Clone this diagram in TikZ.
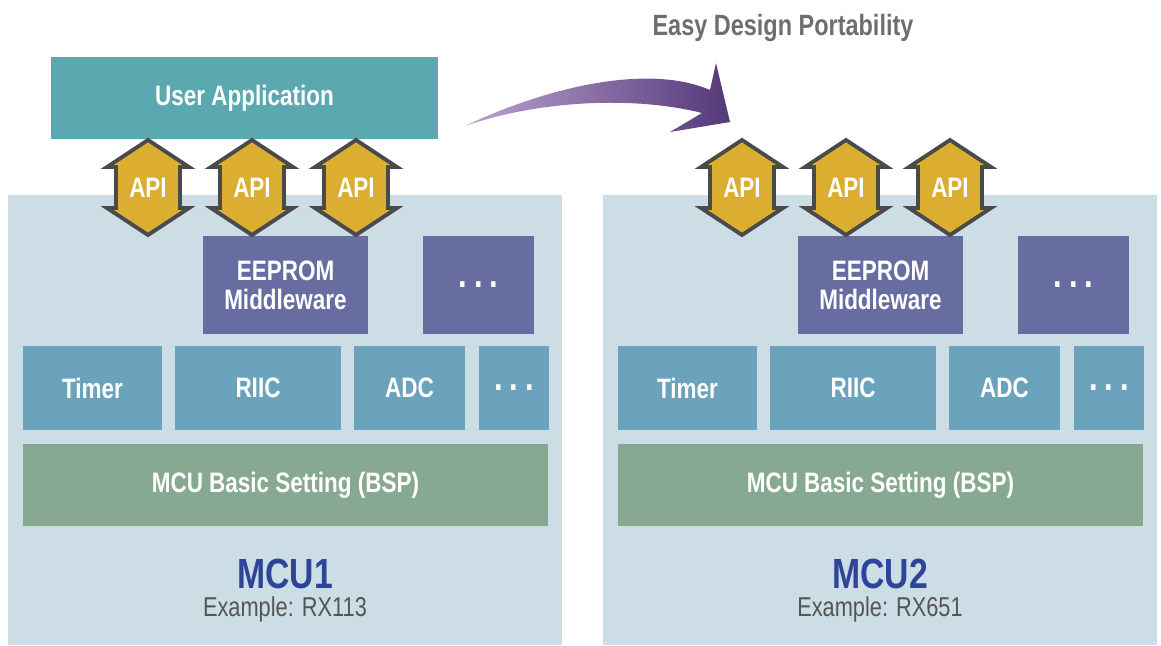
\documentclass[tikz,border=0pt]{standalone}
\usepackage{fontspec}
\setmainfont{Liberation Sans}[FakeStretch=0.8]
\usetikzlibrary{calc}
\definecolor{panelGrey}{HTML}{CCDDE5}
\definecolor{appTeal}{HTML}{5BA8B0}
\definecolor{apiGold}{HTML}{DBAE32}
\definecolor{apiEdge}{HTML}{4A4A4A}
\definecolor{mwPurple}{HTML}{676DA1}
\definecolor{drvBlue}{HTML}{6CA3BC}
\definecolor{bspGreen}{HTML}{88A991}
\definecolor{mcuBlue}{HTML}{2E4499}
\definecolor{noteGrey}{HTML}{555555}
\definecolor{titleGrey}{HTML}{6D6E71}
\definecolor{arrLight}{HTML}{BBA3D0}
\definecolor{arrDark}{HTML}{553879}
\newcommand{\tridot}{{\fontsize{22}{22}\selectfont.\hspace{4pt}.\hspace{4pt}.}}

\begin{document}
\begin{tikzpicture}[x=0.02cm, y=-0.02cm,
  blk/.style={inner sep=0pt, align=center, text=white,
              font=\bfseries\fontsize{16}{16.6}\selectfont},
  panel/.style={fill=panelGrey, minimum width=11.08cm, minimum height=9cm, inner sep=0pt},
  api/.style={fill=apiGold, draw=apiEdge, line width=2.2pt, miter limit=10}]

  \useasboundingbox (0,0) rectangle (1161,646);

  \node[font=\bfseries\fontsize{16.7}{18}\selectfont, text=titleGrey] (title) at (783,28)
    {Easy Design Portability};
  \node[blk, fill=appTeal, minimum width=7.74cm, minimum height=1.64cm] (app) at (244.5,98)
    {User Application};

  % porting arrow
  \coordinate (tail) at (465,126);
  \coordinate (neckU) at (710,90);
  \coordinate (barbU) at (716,63);
  \coordinate (tip) at (730,122);
  \coordinate (barbL) at (670,132);
  \coordinate (neckL) at (702,113);
  \shade[left color=arrLight, right color=arrDark]
    (tail) .. controls (540,90) and (645,62) .. (neckU) -- (barbU) -- (tip) -- (barbL)
    -- (neckL) .. controls (635,96) and (540,100) .. (tail) -- cycle;

  \foreach \dx/\p/\ex in {0/1/RX113, 595/2/RX651} {
    \node[panel] (mcu\p) at ({\dx+285},420) {};
    \node[blk, fill=mwPurple, minimum width=3.3cm, minimum height=1.96cm] (eeprom\p)
      at ({\dx+285.5},285) {EEPROM\\Middleware};
    \node[blk, fill=mwPurple, minimum width=2.22cm, minimum height=1.96cm] (mwmore\p)
      at ({\dx+478.5},285) {\tridot};
    \node[blk, fill=drvBlue, minimum width=2.78cm, minimum height=1.68cm] (timer\p)
      at ({\dx+92.5},388) {Timer};
    \node[blk, fill=drvBlue, minimum width=3.32cm, minimum height=1.68cm] (riic\p)
      at ({\dx+258},388) {RIIC};
    \node[blk, fill=drvBlue, minimum width=2.22cm, minimum height=1.68cm] (adc\p)
      at ({\dx+409.5},388) {ADC};
    \node[blk, fill=drvBlue, minimum width=1.4cm, minimum height=1.68cm] (drvmore\p)
      at ({\dx+514},388) {\tridot};
    \node[blk, fill=bspGreen, minimum width=10.5cm, minimum height=1.64cm] (bsp\p)
      at ({\dx+285.5},485) {MCU Basic Setting (BSP)};
    \node[font=\bfseries\fontsize{24}{26}\selectfont, text=mcuBlue] (name\p)
      at ({\dx+285},574) {MCU\p};
    \node[font=\fontsize{15.5}{17}\selectfont, text=noteGrey] (part\p)
      at ({\dx+285},609) {Example: \ex};

    % API double arrows
    \foreach \ax [count=\k] in {148,252,356} {
      \draw[api] ({\ax+\dx-\p+1},140) -- ++(41,27) -- ++(-9,0) -- ++(0,41) -- ++(9,0)
        -- ({\ax+\dx-\p+1},235) -- ++(-41,-27) -- ++(9,0) -- ++(0,-41) -- ++(-9,0) -- cycle;
      \node[blk] (api\p\k) at ({\ax+\dx-\p+1},187.5) {API};
    }
  }
\end{tikzpicture}
\end{document}
